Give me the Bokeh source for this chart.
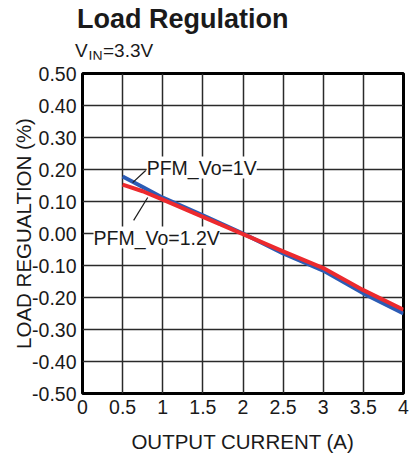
from bokeh.plotting import figure
from bokeh.layouts import column
from bokeh.models import Range1d, FixedTicker, NumeralTickFormatter, Label, ColumnDataSource, Div
from bokeh.embed import file_html
from bokeh.resources import INLINE

# ---- data ----
current = [0.5, 0.75, 1.0, 1.5, 2.0, 2.5, 3.0, 3.5, 4.0]
reg_vo_1v = [0.178, 0.145, 0.112, 0.057, 0.0, -0.062, -0.116, -0.187, -0.25]
reg_vo_1v2 = [0.153, 0.132, 0.106, 0.052, -0.002, -0.056, -0.108, -0.177, -0.238]
x_ticks = [0, 0.5, 1, 1.5, 2, 2.5, 3, 3.5, 4]
x_tick_labels = ["0", "0.5", "1", "1.5", "2", "2.5", "3", "3.5", "4"]
y_ticks = [-0.5, -0.4, -0.3, -0.2, -0.1, 0.0, 0.1, 0.2, 0.3, 0.4, 0.5]

FONT = "Liberation Sans"
INK = "#1a1a1a"

# ---- header (title + condition) ----
span = "position:absolute; white-space:nowrap; line-height:1;"
html = (
    f'<div style="position:relative; width:415px; height:59px; font-family:\'{FONT}\', Arial, sans-serif; color:{INK};">'
    f'<span style="{span} left:77px; top:6px; font-size:27px; font-weight:bold;">Load Regulation</span>'
    f'<span style="{span} left:75px; top:41px; font-size:19px;">V</span>'
    f'<span style="{span} left:88.5px; top:49px; font-size:14px;">IN</span>'
    f'<span style="{span} left:103px; top:41px; font-size:19px;">=3.3V</span>'
    '</div>'
)
header = Div(text=html, width=415, height=59, margin=0)

# ---- main chart ----
p = figure(frame_width=321, frame_height=320,
           x_range=Range1d(0, 4), y_range=Range1d(-0.5, 0.5),
           output_backend="svg", toolbar_location=None,
           min_border_left=82, min_border_right=12, min_border_top=14, min_border_bottom=62)
p.title.visible = False
p.outline_line_color = "black"
p.outline_line_width = 3

for ax in (p.xaxis[0], p.yaxis[0]):
    ax.axis_line_color = None
    ax.major_tick_line_color = None
    ax.minor_tick_line_color = None
    ax.major_label_text_font = FONT
    ax.major_label_text_font_size = "19.5px"
    ax.major_label_text_color = INK
    ax.axis_label_text_font = FONT
    ax.axis_label_text_font_size = "20.5px"
    ax.axis_label_text_font_style = "normal"
    ax.axis_label_text_color = INK
    ax.major_label_standoff = 0

p.xaxis.ticker = FixedTicker(ticks=x_ticks)
p.xaxis.major_label_overrides = {t: l for t, l in zip(x_ticks, x_tick_labels)}
p.yaxis.ticker = FixedTicker(ticks=y_ticks)
p.yaxis.formatter = NumeralTickFormatter(format="0.00")
p.xaxis.axis_label = "OUTPUT CURRENT (A)"
p.yaxis.axis_label = "LOAD REGUALTION (%)"
p.xaxis.axis_label_standoff = 13
p.yaxis.axis_label_standoff = -6

for g in (p.xgrid[0], p.ygrid[0]):
    g.grid_line_color = "#2a2a2a"
    g.grid_line_width = 1.5

src = ColumnDataSource(dict(x=current, a=reg_vo_1v, b=reg_vo_1v2))
p.line("x", "a", source=src, line_color="#2c5cb5", line_width=4)
p.line("x", "b", source=src, line_color="#ec2a2e", line_width=4)

# leader lines
p.segment(x0=[0.7875, 0.6375], y0=[0.197, 0.041], x1=[0.625, 0.8125], y1=[0.159, 0.1125],
          line_color=INK, line_width=1.2)

# annotations with white background
for txt, x, y in [("PFM_Vo=1V", 0.8, 0.206), ("PFM_Vo=1.2V", 0.1375, -0.0125)]:
    p.add_layout(Label(x=x, y=y, text=txt, text_font=FONT, text_font_size="19.5px",
                       text_baseline="middle", text_color=INK,
                       background_fill_color="white", background_fill_alpha=1.0))

layout = column(header, p, spacing=0)
open("out.html", "w").write(file_html(layout, INLINE))
